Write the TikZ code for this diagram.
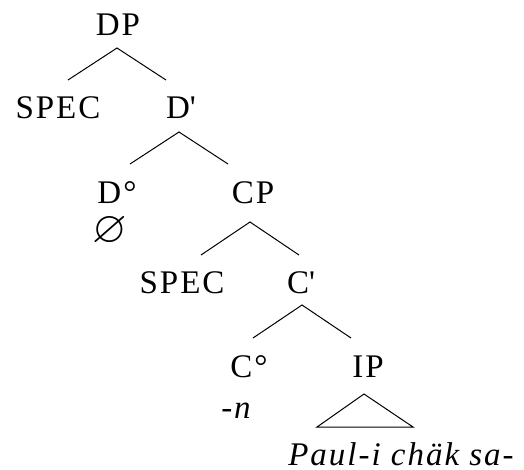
\documentclass[tikz,border=0pt]{standalone}
\usepackage{amssymb}
\usepackage{graphicx}
\usepackage{fontspec}
\setmainfont{Liberation Serif}[LetterSpace=6]
\usetikzlibrary{calc}
\tikzset{
  cat/.style={anchor=base, inner sep=0pt, font=\fontsize{33}{39}\selectfont},
  branch/.style={line width=1pt, line join=miter}
}

\begin{document}
\begin{tikzpicture}[x=1pt, y=-1pt]
    \useasboundingbox (0,0) rectangle (524,469);
    % Categories, placed on their baselines
    \node[cat] (dp)    at (118,35)  {DP};
    \node[cat] (specd) at (58,118)  {SPEC};
    \node[cat] (dbar)  at (181,118) {D\textquotesingle};
    \node[cat] (dhead) at (117,203) {D°};
    \node[cat] (cp)    at (253,203) {CP};
    \node[cat] (nulld) at (110,242) {\scalebox{1.35}{$\varnothing$}};
    \node[cat] (specc) at (182,293) {SPEC};
    \node[cat] (cbar)  at (301,293) {C\textquotesingle};
    \node[cat] (chead) at (249,377) {C°};
    \node[cat] (ip)    at (368,377) {IP};
    \node[cat] (suffn) at (236,418) {\itshape -n};
    \node[cat] (words) at (401,465) {\itshape Paul-i chäk sa-};
    % Branches
    \draw[branch] ($(specd.base)+(10,-38)$) -- ($(dp.base)+(-1,13)$) -- ($(dbar.base)+(-15,-38)$);
    \draw[branch] ($(dhead.base)+(13,-39)$) -- ($(dbar.base)+(-2,14)$) -- ($(cp.base)+(-25,-39)$);
    \draw[branch] ($(specc.base)+(19,-38)$) -- ($(cp.base)+(-3,19)$) -- ($(cbar.base)+(-2,-38)$);
    \draw[branch] ($(chead.base)+(4,-39)$) -- ($(cbar.base)+(1,12)$) -- ($(ip.base)+(-17,-39)$);
    % Roof over the IP material
    \draw[branch] ($(ip.base)+(-4,17)$) -- ($(words.base)+(-84,-38)$) -- ($(words.base)+(12,-38)$) -- cycle;
\end{tikzpicture}
\end{document}
